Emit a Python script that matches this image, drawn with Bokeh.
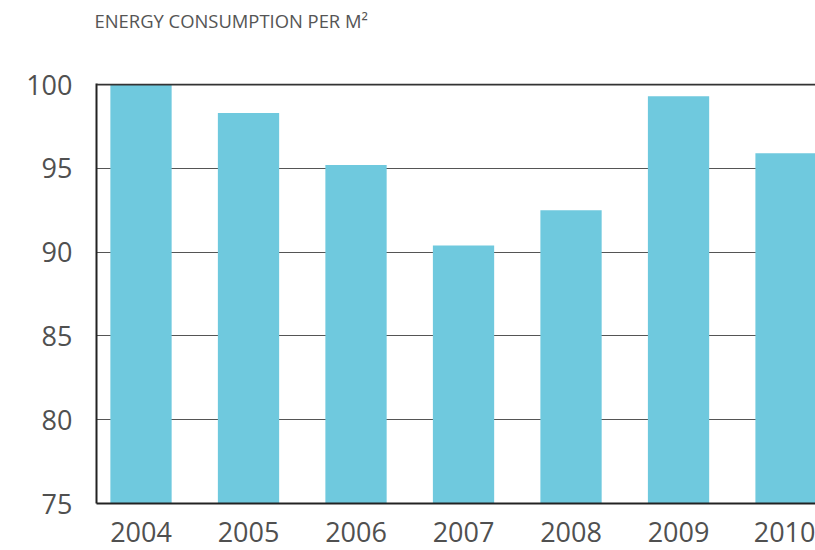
from bokeh.plotting import figure
from bokeh.models import Range1d, FixedTicker, Title, Span
from bokeh.embed import file_html
from bokeh.resources import INLINE

years = [2004, 2005, 2006, 2007, 2008, 2009, 2010]
values = [100.0, 98.3, 95.2, 90.4, 92.5, 99.3, 95.9]
y_ticks = [75, 80, 85, 90, 95, 100]
title_text = "ENERGY CONSUMPTION PER M\u00b2"

p = figure(width=815, height=550, output_backend="svg", toolbar_location=None,
           x_range=Range1d(years[0] - 0.414, years[-1] + 0.274),
           y_range=Range1d(y_ticks[0], y_ticks[-1] + 0.06),
           min_border_left=96, min_border_right=0, min_border_top=83, min_border_bottom=47)

t = Title(text=title_text + "\n \n ", text_font="Open Sans", text_font_size="18.4px",
          text_color="#555555", text_font_style="normal", align="left",
          vertical_align="bottom", offset=-2, standoff=2)
p.add_layout(t, "above")

p.vbar(x=years, top=values, bottom=y_ticks[0], width=0.57, fill_color="#6FC9DE", line_color=None)

p.outline_line_color = None
p.background_fill_color = "white"
p.border_fill_color = "white"

p.xgrid.grid_line_color = None
p.ygrid.ticker = FixedTicker(ticks=y_ticks)
p.ygrid.grid_line_color = "#555555"
p.ygrid.grid_line_width = 1.2
p.ygrid.level = "underlay"

top_line = Span(location=y_ticks[-1], dimension="width", line_color="#333333", line_width=2)
p.add_layout(top_line)

p.yaxis.ticker = FixedTicker(ticks=y_ticks)
p.xaxis.ticker = FixedTicker(ticks=years)
for ax in (p.xaxis[0], p.yaxis[0]):
    ax.axis_line_color = "#222222"
    ax.axis_line_width = 2
    ax.major_tick_line_color = None
    ax.minor_tick_line_color = None
    ax.major_label_text_font = "Open Sans"
    ax.major_label_text_font_size = "27px"
    ax.major_label_text_color = "#505050"
p.yaxis.major_label_standoff = 18
p.xaxis.major_label_standoff = 12

open("out.html", "w").write(file_html(p, INLINE))
